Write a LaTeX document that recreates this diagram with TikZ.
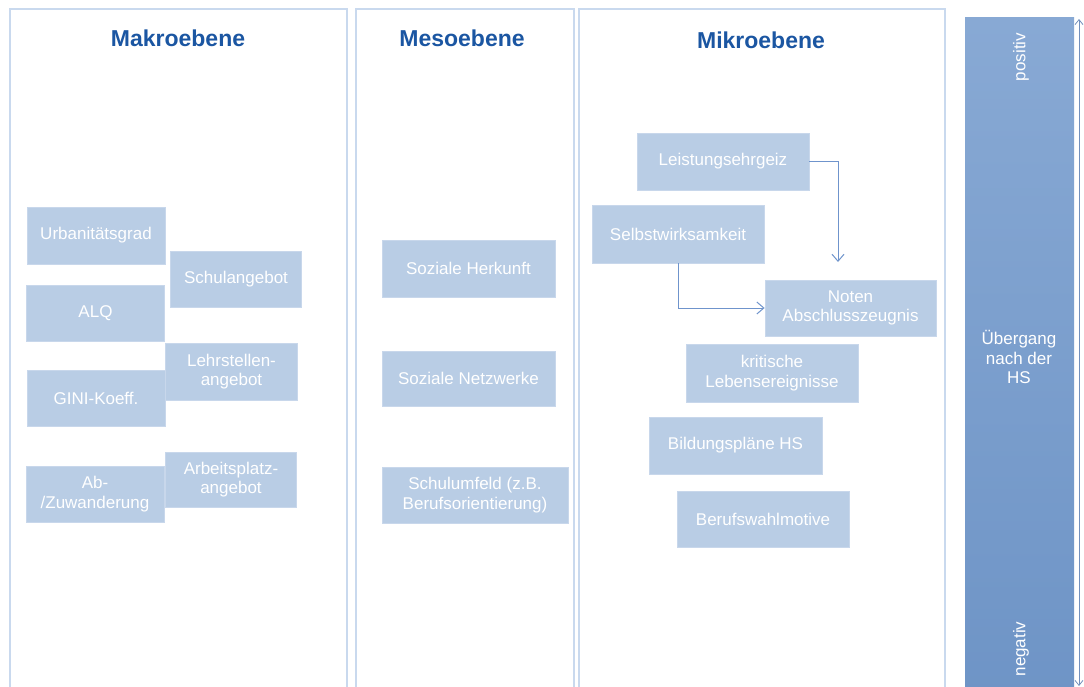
\documentclass[tikz,border=0pt]{standalone}
\usepackage{fontspec}
\setmainfont{Liberation Sans}
\usepackage{tikz}
\usetikzlibrary{arrows.meta, positioning}

\definecolor{panelline}{HTML}{C9D9EE}
\definecolor{titleblue}{HTML}{1B56A2}
\definecolor{boxfill}{HTML}{B9CDE5}
\definecolor{boxedge}{HTML}{C8D7EB}
\definecolor{arrowblue}{HTML}{6F94CC}
\definecolor{bartop}{HTML}{88A9D4}
\definecolor{barbottom}{HTML}{6E94C6}

\begin{document}
\begin{tikzpicture}[
  x=1pt, y=-1pt,
  every node/.style={font=\fontsize{17}{19.5}\selectfont},
  panel/.style={draw=panelline, line width=2pt},
  title/.style={text=titleblue, font=\fontsize{23}{26}\selectfont\bfseries},
  box/.style={fill=boxfill, draw=boxedge, line width=0.8pt, text=white,
              align=center, inner sep=0pt, minimum width=172pt, minimum height=57pt},
  mbox/.style={box, minimum width=138pt},
  arr/.style={-{Straight Barb[length=7pt, width=12pt]}, draw=arrowblue, line width=1pt},
  bartext/.style={text=white, align=center},
]
  \clip (0,0) rectangle (1084,686);
  \fill[white] (0,0) rectangle (1084,686);

  % Spalten
  \draw[panel] (10,9) rectangle (347,700);
  \draw[panel] (356,9) rectangle (574,700);
  \draw[panel] (579,9) rectangle (945,700);

  \node[title] (makro) at (178,38) {Makroebene};
  \node[title] (meso) at (462,38) {Mesoebene};
  \node[title] (mikro) at (761,40) {Mikroebene};

  % Makroebene
  \node[mbox] (urb) at (96,235.5) {Urbanitätsgrad};
  \node[mbox, minimum width=131pt, minimum height=56pt] (schul) at (236,279) {Schulangebot};
  \node[mbox, minimum height=56pt] (alq) at (95.5,313) {ALQ};
  \node[mbox, minimum width=132pt] (lehr) at (231.5,371.5) {Lehrstellen-\\angebot};
  \node[mbox, minimum height=56pt] (gini) at (96,398) {GINI-Koeff.};
  \node[mbox, minimum height=56pt] (abzu) at (95,494) {Ab-\\/Zuwanderung};
  \node[mbox, minimum width=131pt, minimum height=55pt] (arbeit) at (231,479.5)
       {Arbeitsplatz-\\angebot};

  % Mesoebene
  \node[box, minimum width=173pt] (herk) at (468.5,268.5) {Soziale Herkunft};
  \node[box, minimum width=173pt, minimum height=55pt] (netz) at (468.5,378.5)
       {Soziale Netzwerke};
  \node[box, minimum width=186pt, minimum height=56pt] (umfeld) at (475,495)
       {Schulumfeld (z.B.\\Berufsorientierung)};

  % Mikroebene
  \node[box] (leist) at (723,161.5) {Leistungsehrgeiz};
  \node[box, minimum height=58pt] (selbst) at (678,234) {Selbstwirksamkeit};
  \node[box, minimum width=171pt, minimum height=56pt] (noten) at (850.5,308)
       {Noten\\Abschlusszeugnis};
  \node[box, minimum height=58pt] (krit) at (772,373) {kritische\\Lebensereignisse};
  \node[box, minimum width=173pt] (bild) at (735.5,445.5) {Bildungspläne HS};
  \node[box, minimum height=56pt] (motiv) at (763,519) {Berufswahlmotive};

  \coordinate (nabove) at (838,262);
  \draw[arr] (leist.east) -| (nabove);
  \draw[arr] (selbst.south) |- (noten.west);

  % Übergang
  \shade[top color=bartop, bottom color=barbottom] (965,17) rectangle (1074,700);
  \node[bartext] (ueb) at (1019,357) {Übergang\\nach der\\HS};
  \node[bartext, rotate=90] (pos) at (1021,57) {positiv};
  \node[bartext, rotate=90] (neg) at (1021,649) {negativ};

  \coordinate (ptop) at (1079,19);
  \coordinate (pbot) at (1079,686);
  \draw[{Straight Barb[length=5pt, width=8pt]}-{Straight Barb[length=5pt, width=8pt]},
        draw=arrowblue!80!gray, line width=0.8pt] (pbot) -- (ptop);
\end{tikzpicture}
\end{document}
